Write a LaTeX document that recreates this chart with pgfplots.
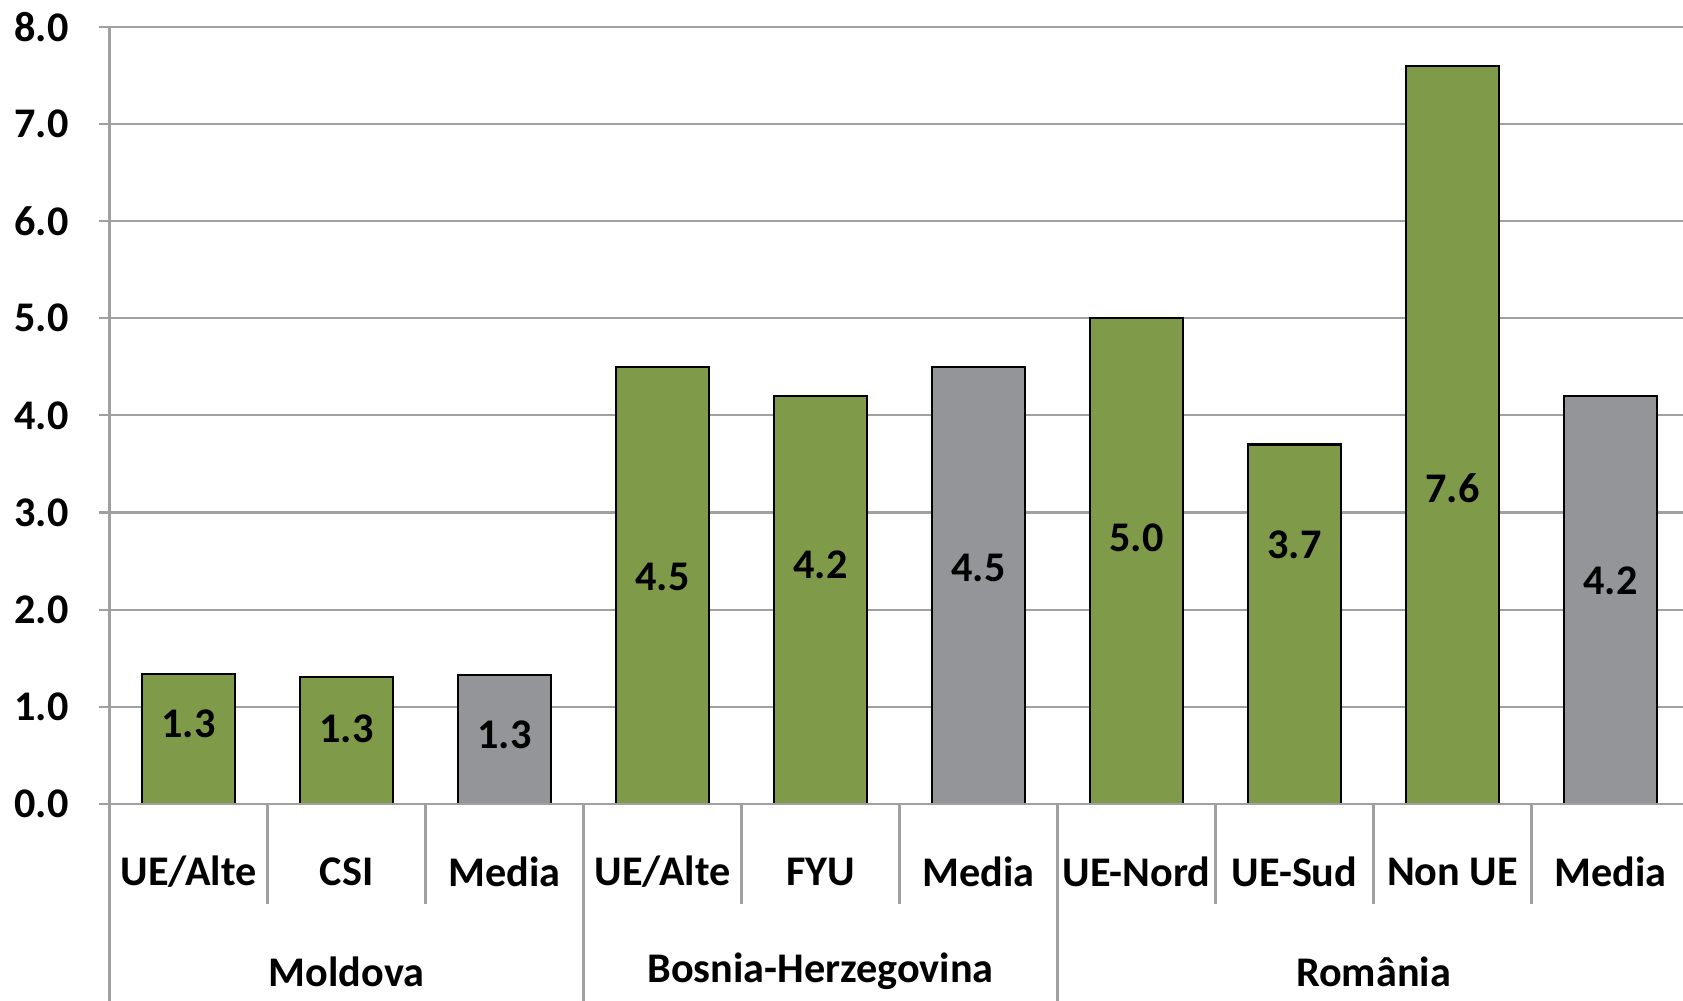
\documentclass[border=0pt]{standalone}
\usepackage{pgfplots}
\pgfplotsset{compat=1.18}
\usepackage{fontspec}
\setmainfont{Carlito}
\definecolor{barGreen}{HTML}{7F9A48}
\definecolor{barGray}{HTML}{939598}
\definecolor{gridGray}{HTML}{A0A0A0}
\newcommand{\lblfont}{\fontsize{11.8}{13}\selectfont\bfseries}
\begin{document}
\begin{tikzpicture}
\begin{axis}[
  at={(0,0)}, anchor=south west,
  scale only axis, width=441.6pt, height=217.2pt,
  xmin=-0.5, xmax=9.5, ymin=0, ymax=8,
  axis x line*=bottom, axis y line*=left,
  axis line style={draw=none},
  ytick={0,1,...,8},
  yticklabels={0.0,1.0,2.0,3.0,4.0,5.0,6.0,7.0,8.0},
  ymajorgrids, grid style={gridGray, line width=0.6pt},
  tick align=outside, major tick length=3pt,
  ytick style={gridGray, line width=0.6pt},
  xtick={0,...,9},
  xticklabels={UE/Alte,CSI,Media,UE/Alte,FYU,Media,UE-Nord,UE-Sud,Non UE,Media},
  xtick style={draw=none},
  xticklabel style={font=\lblfont, anchor=center, yshift=-15.9pt},
  yticklabel style={font=\lblfont, anchor=east, xshift=-4.9pt},
  clip=false,
]
\addplot[ybar, bar width=26.1pt, bar shift=0pt, fill=barGreen, draw=black, line width=0.6pt]
  coordinates {(0,1.34) (1,1.31) (3,4.5) (4,4.2) (6,5.0) (7,3.7) (8,7.6)};
\addplot[ybar, bar width=26.1pt, bar shift=0pt, fill=barGray, draw=black, line width=0.6pt]
  coordinates {(2,1.33) (5,4.5) (9,4.2)};
\addplot[draw=none, mark=none, nodes near coords, point meta=explicit symbolic,
  every node near coord/.style={font=\lblfont, anchor=center, black}]
  coordinates {(0,0.83)[1.3] (1,0.77)[1.3] (2,0.71)[1.3] (3,2.34)[4.5] (4,2.46)[4.2]
               (5,2.43)[4.5] (6,2.74)[5.0] (7,2.67)[3.7] (8,3.25)[7.6] (9,2.30)[4.2]};
% axis lines and separators
\draw[gridGray, line width=0.6pt] (axis cs:-0.5,8) -- ([yshift=-60pt]axis cs:-0.5,0);
\draw[gridGray, line width=0.6pt] (axis cs:-0.5,0) -- (axis cs:9.5,0);
\draw[gridGray, line width=0.6pt] (axis cs:0.5,0) -- ([yshift=-27.9pt]axis cs:0.5,0);
\draw[gridGray, line width=0.6pt] (axis cs:1.5,0) -- ([yshift=-27.9pt]axis cs:1.5,0);
\draw[gridGray, line width=0.6pt] (axis cs:3.5,0) -- ([yshift=-27.9pt]axis cs:3.5,0);
\draw[gridGray, line width=0.6pt] (axis cs:4.5,0) -- ([yshift=-27.9pt]axis cs:4.5,0);
\draw[gridGray, line width=0.6pt] (axis cs:6.5,0) -- ([yshift=-27.9pt]axis cs:6.5,0);
\draw[gridGray, line width=0.6pt] (axis cs:7.5,0) -- ([yshift=-27.9pt]axis cs:7.5,0);
\draw[gridGray, line width=0.6pt] (axis cs:8.5,0) -- ([yshift=-27.9pt]axis cs:8.5,0);
\draw[gridGray, line width=0.6pt] (axis cs:2.5,0) -- ([yshift=-60pt]axis cs:2.5,0);
\draw[gridGray, line width=0.6pt] (axis cs:5.5,0) -- ([yshift=-60pt]axis cs:5.5,0);
\draw[gridGray, line width=0.6pt] (axis cs:9.5,0) -- ([yshift=-60pt]axis cs:9.5,0);
\node[font=\lblfont, anchor=center] at ([yshift=-46.8pt]axis cs:1,0) {Moldova};
\node[font=\lblfont, anchor=center] at ([yshift=-46.8pt]axis cs:4,0) {Bosnia-Herzegovina};
\node[font=\lblfont, anchor=center] at ([yshift=-46.8pt]axis cs:7.5,0) {România};
\end{axis}
\pgfresetboundingbox
\useasboundingbox (-30.6pt,-54.9pt) rectangle (439.8pt,224.7pt);
\end{tikzpicture}
\end{document}
